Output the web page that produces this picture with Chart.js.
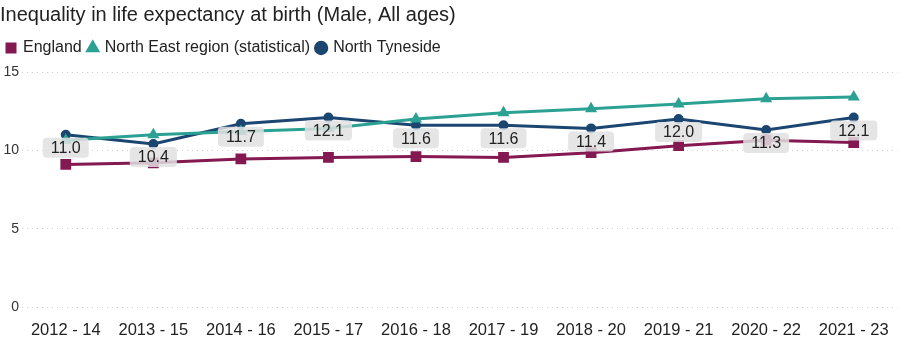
<!DOCTYPE html>
<html>
<head>
<meta charset="utf-8">
<script src="https://cdn.jsdelivr.net/npm/chart.js@4"></script>
<style>
  body { margin: 0; background: #fff; }
  #wrap { width: 906px; height: 337px; }
</style>
</head>
<body>
<div id="wrap"><canvas id="lifeChart"></canvas></div>
<script>
const periods = ["2012 - 14", "2013 - 15", "2014 - 16", "2015 - 17", "2016 - 18",
                 "2017 - 19", "2018 - 20", "2019 - 21", "2020 - 22", "2021 - 23"];
const england = [9.1, 9.2, 9.45, 9.55, 9.6, 9.55, 9.85, 10.3, 10.65, 10.5];
const northEast = [10.65, 11.0, 11.2, 11.4, 12.0, 12.4, 12.65, 12.95, 13.3, 13.4];
const tyneside = [11.0, 10.4, 11.7, 12.1, 11.6, 11.6, 11.4, 12.0, 11.3, 12.1];

const FONT = '"Liberation Sans", Arial, sans-serif';

// grey value boxes under the North Tyneside points
const valueLabels = {
    id: "valueLabels",
    afterDatasetsDraw(chart) {
        const ctx = chart.ctx;
        const meta = chart.getDatasetMeta(2);
        ctx.save();
        ctx.font = "16px " + FONT;
        ctx.textAlign = "center";
        ctx.textBaseline = "middle";
        meta.data.forEach((pt, i) => {
            const txt = tyneside[i].toFixed(1);
            const w = ctx.measureText(txt).width + 16;
            const h = 20;
            const x = pt.x - w / 2;
            const y = pt.y + 3;
            ctx.fillStyle = "rgba(224,224,224,0.85)";
            ctx.beginPath();
            ctx.roundRect(x, y, w, h, 4);
            ctx.fill();
            ctx.fillStyle = "#222";
            ctx.fillText(txt, pt.x, y + h / 2 + 1);
        });
        ctx.restore();
    }
};

// a bit more room under the legend
const legendGap = {
    id: "legendGap",
    beforeInit(chart) {
        const fit = chart.legend.fit;
        chart.legend.fit = function () {
            fit.bind(this)();
            this.height += 6;
        };
    }
};

new Chart(document.getElementById("lifeChart"), {
    type: "line",
    data: {
        labels: periods,
        datasets: [
            { label: "England", data: england, borderColor: "#841851", backgroundColor: "#841851",
              pointStyle: "rect", pointRadius: 5.5, borderWidth: 3 },
            { label: "North East region (statistical)", data: northEast, borderColor: "#2BA193", backgroundColor: "#2BA193",
              pointStyle: "triangle", pointRadius: 4, borderWidth: 3 },
            { label: "North Tyneside", data: tyneside, borderColor: "#1B4671", backgroundColor: "#1B4671",
              pointStyle: "circle", pointRadius: 3.5, borderWidth: 3 }
        ]
    },
    options: {
        responsive: true,
        maintainAspectRatio: false,
        animation: false,
        layout: { padding: 0 },
        plugins: {
            title: {
                display: true,
                text: "Inequality in life expectancy at birth (Male, All ages)",
                align: "start",
                color: "#222",
                font: { family: FONT, size: 20, weight: "normal" },
                padding: { top: 3, bottom: 6 }
            },
            legend: {
                align: "start",
                labels: {
                    usePointStyle: true,
                    boxWidth: 8,
                    boxHeight: 8,
                    padding: 7,
                    color: "#222",
                    font: { family: FONT, size: 16 }
                }
            },
            tooltip: { enabled: false }
        },
        scales: {
            x: {
                offset: true,
                grid: { display: false },
                border: { display: false },
                ticks: {
                    color: "#222",
                    padding: 6,
                    maxRotation: 0,
                    autoSkip: false,
                    font: { family: FONT, size: 16.5 }
                },
                afterFit: scale => { scale.height = 30; }
            },
            y: {
                min: 0,
                max: 15,
                ticks: { stepSize: 5, color: "#333", padding: 3, font: { family: FONT, size: 14 } },
                grid: { color: "#d0d0d0", drawTicks: false },
                border: { display: false, dash: [1, 4] },
                afterFit: scale => { scale.width = 22; }
            }
        }
    },
    plugins: [valueLabels, legendGap]
});
</script>
</body>
</html>
